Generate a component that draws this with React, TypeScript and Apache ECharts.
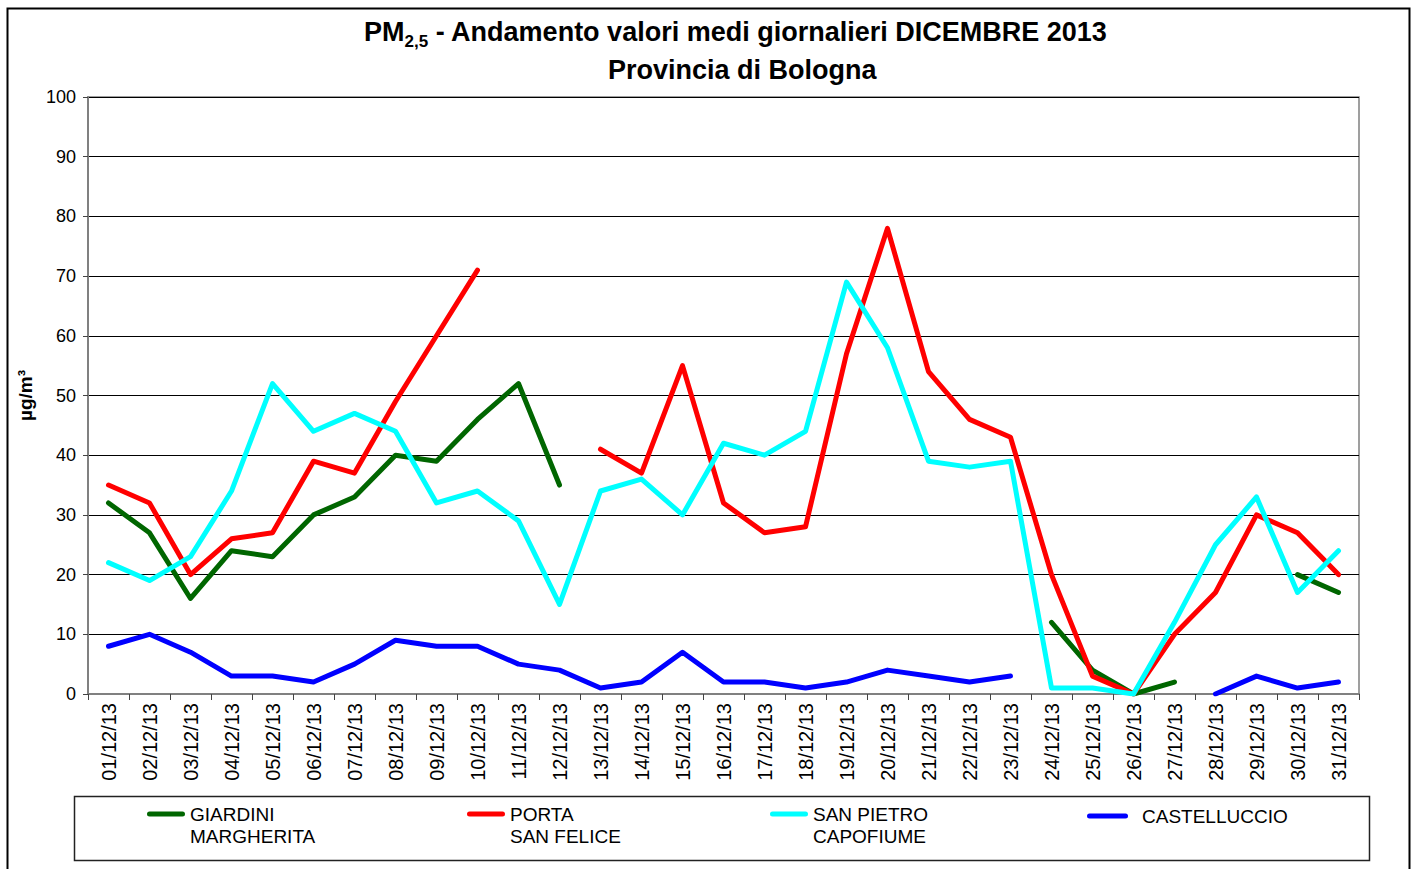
import React, { useEffect, useRef } from "react";
import * as echarts from "echarts";

const FONT = "'Liberation Sans', Arial, Helvetica, sans-serif";

const dates = [
  "01/12/13", "02/12/13", "03/12/13", "04/12/13", "05/12/13", "06/12/13", "07/12/13", "08/12/13",
  "09/12/13", "10/12/13", "11/12/13", "12/12/13", "13/12/13", "14/12/13", "15/12/13", "16/12/13",
  "17/12/13", "18/12/13", "19/12/13", "20/12/13", "21/12/13", "22/12/13", "23/12/13", "24/12/13",
  "25/12/13", "26/12/13", "27/12/13", "28/12/13", "29/12/13", "30/12/13", "31/12/13",
];

const giardini = [
  32, 27, 16, 24, 23, 30, 33, 40, 39, 46, 52, 35,
  null, null, null, null, null, null, null, null, null, null, null,
  12, 4, 0, 2, null, null, 20, 17,
];

const porta = [
  35, 32, 20, 26, 27, 39, 37, 49, 60, 71, null, null,
  41, 37, 55, 32, 27, 28, 57, 78, 54, 46, 43, 20, 3, 0, 10, 17, 30, 27, 20,
];

const sanPietro = [
  22, 19, 23, 34, 52, 44, 47, 44, 32, 34, 29, 15, 34, 36, 30, 42,
  40, 44, 69, 58, 39, 38, 39, 1, 1, 0, 12, 25, 33, 17, 24,
];

const castelluccio = [
  8, 10, 7, 3, 3, 2, 5, 9, 8, 8, 5, 4, 1, 2, 7, 2, 2, 1, 2, 4, 3, 2, 3,
  null, null, null, null, 0, 3, 1, 2,
];

const seriesNames = ["GIARDINI\nMARGHERITA", "PORTA\nSAN FELICE", "SAN PIETRO\nCAPOFIUME", "CASTELLUCCIO"];
const seriesColors = ["#006600", "#ff0000", "#00ffff", "#0000ff"];
const seriesData = [giardini, porta, sanPietro, castelluccio];

const yTicks = { min: 0, max: 100, interval: 10 };

function legendIcon(w: number, twoLines: boolean) {
  const r = 2.5;
  const bar = `M${r},0L${w - r},0A${r},${r} 0 0 1 ${w - r},5L${r},5A${r},${r} 0 0 1 ${r},0Z`;
  return "path://" + bar + (twoLines ? ` M0,27L${w},27` : "");
}

export default function App() {
  const ref = useRef<HTMLDivElement>(null);
  useEffect(() => {
    if (!ref.current) return;
    const chart = echarts.init(ref.current, null, { renderer: "svg" });
    const legendLefts = [147, 467, 770, 1087];
    const legendWidths = [38, 38, 38, 41];
    const option: any = {
      animation: false,
      backgroundColor: "#ffffff",
      textStyle: { fontFamily: FONT },
      title: [
        {
          text: "{b|PM}{s|2,5}{b| - Andamento valori medi giornalieri DICEMBRE 2013}",
          left: 364,
          top: 13,
          padding: 0,
          textStyle: {
            rich: {
              b: { fontSize: 27, fontWeight: "bold", fontFamily: FONT, color: "#000", lineHeight: 30, verticalAlign: "middle" },
              s: { fontSize: 17, fontWeight: "bold", fontFamily: FONT, color: "#000", lineHeight: 37, verticalAlign: "bottom" },
            },
          },
        },
        {
          text: "Provincia di Bologna",
          left: 608,
          top: 55,
          padding: 0,
          textStyle: { fontSize: 27, fontWeight: "bold", fontFamily: FONT, color: "#000", lineHeight: 30 },
        },
      ],
      legend: seriesNames.map((name, i) => {
        const two = name.indexOf("\n") >= 0;
        return {
          data: [name],
          left: legendLefts[i],
          top: two ? 803 : 805,
          padding: 0,
          itemWidth: legendWidths[i],
          itemHeight: two ? 27 : 5,
          icon: legendIcon(legendWidths[i], two),
          itemStyle: { borderWidth: 0 },
          selectedMode: false,
          textStyle: {
            fontSize: 19,
            lineHeight: 22,
            color: "#000",
            fontFamily: FONT,
            padding: two ? 0 : [0, 0, 0, 9],
          },
        };
      }),
      grid: {
        left: 88,
        top: 97,
        width: 1271,
        height: 597,
        show: true,
        borderColor: "#808080",
        borderWidth: 1.5,
        backgroundColor: "transparent",
      },
      xAxis: {
        type: "category",
        data: dates,
        boundaryGap: true,
        axisLine: { show: true, lineStyle: { color: "#808080", width: 2 } },
        axisTick: { show: true, length: 6, alignWithLabel: false, lineStyle: { color: "#444", width: 1 } },
        axisLabel: { rotate: 90, fontSize: 20, margin: 9, color: "#000", fontFamily: FONT, interval: 0 },
        splitLine: { show: false },
      },
      yAxis: {
        type: "value",
        min: yTicks.min,
        max: yTicks.max,
        interval: yTicks.interval,
        name: "µg/m³",
        nameLocation: "middle",
        nameRotate: 90,
        nameGap: 52,
        nameTextStyle: { fontSize: 19, fontWeight: "bold", color: "#000", fontFamily: FONT },
        axisLine: { show: true, lineStyle: { color: "#808080", width: 2 } },
        axisTick: { show: true, inside: false, length: 5, lineStyle: { color: "#444", width: 1 } },
        axisLabel: { fontSize: 18, margin: 12, color: "#000", fontFamily: FONT },
        splitLine: { show: true, lineStyle: { color: "#000", width: 1 } },
      },
      series: seriesNames.map((name, i) => ({
        name,
        type: "line",
        data: seriesData[i],
        symbol: "none",
        showSymbol: false,
        connectNulls: false,
        color: seriesColors[i],
        lineStyle: { color: seriesColors[i], width: 5, cap: "round", join: "round" },
        z: 3 + i,
      })),
      graphic: [
        {
          type: "rect",
          left: 5,
          top: 6,
          shape: { x: 0, y: 0, width: 1402, height: 880 },
          style: { fill: "none", stroke: "#000", lineWidth: 2 },
          silent: true,
          z: 100,
        },
        {
          type: "rect",
          left: 72,
          top: 794,
          shape: { x: 0, y: 0, width: 1295, height: 64 },
          style: { fill: "none", stroke: "#222", lineWidth: 1.5 },
          silent: true,
          z: 100,
        },
      ],
    };
    chart.setOption(option);
    return () => chart.dispose();
  }, []);
  return (
    <div
      ref={ref}
      style={{ position: "fixed", left: 0, top: 0, width: 1415, height: 869, background: "#fff" }}
    />
  );
}
